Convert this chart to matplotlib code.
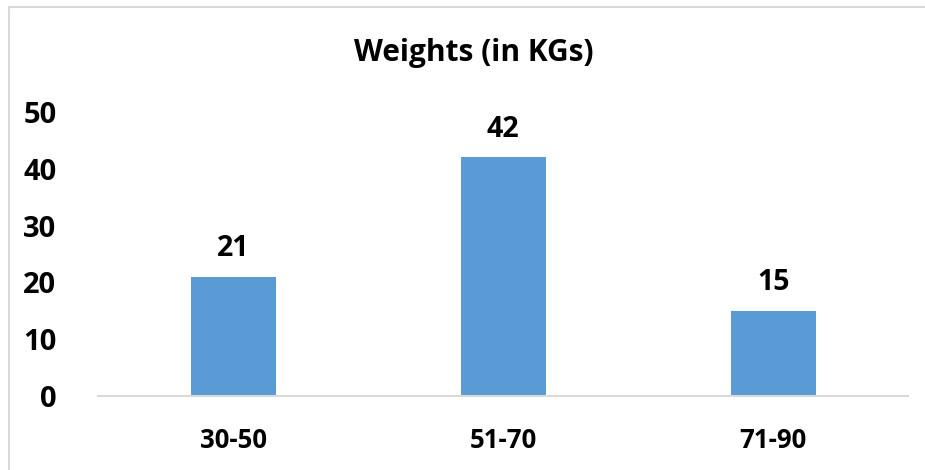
import matplotlib.pyplot as plt
from matplotlib.patches import Rectangle

categories = ['30-50', '51-70', '71-90']
weights = [21, 42, 15]

plt.rcParams['font.family'] = ['Open Sans', 'DejaVu Sans']
plt.rcParams['font.weight'] = 'bold'

fig = plt.figure(figsize=(9.25, 4.7), dpi=100)
ax = fig.add_axes([0.106, 0.157, 0.876, 0.605])

# chart frame (cut off on right and bottom like the screenshot)
fig.patches.append(Rectangle((8.5 / 925, -0.1), 1.2, 1 - 7.5 / 470 + 0.1,
                             transform=fig.transFigure, fill=False,
                             edgecolor='#d9d9d9', linewidth=1.5))

x = range(len(categories))
bars = ax.bar(x, weights, width=0.315, color='#5b9bd5')
for b, v in zip(bars, weights):
    ax.text(b.get_x() + b.get_width() / 2, v + 2.4, str(v), ha='center',
            va='bottom', fontsize=20.5, fontweight='bold')

ax.set_xlim(-0.5, 2.5)
ax.set_ylim(0, 50)
ax.set_yticks(range(0, 51, 10))
ax.set_xticks(list(x))
ax.set_xticklabels(categories)
ax.tick_params(axis='y', length=0, labelsize=21, pad=30)
ax.tick_params(axis='x', length=0, labelsize=18.5, pad=22)
for s in ['top', 'right', 'left']:
    ax.spines[s].set_visible(False)
ax.spines['bottom'].set_color('#d9d9d9')
ax.spines['bottom'].set_linewidth(1.5)

fig.text(0.512, 0.888, 'Weights (in KGs)', ha='center', va='center',
         fontsize=21.5, fontweight='bold')

fig.savefig('out.png', dpi=100)
